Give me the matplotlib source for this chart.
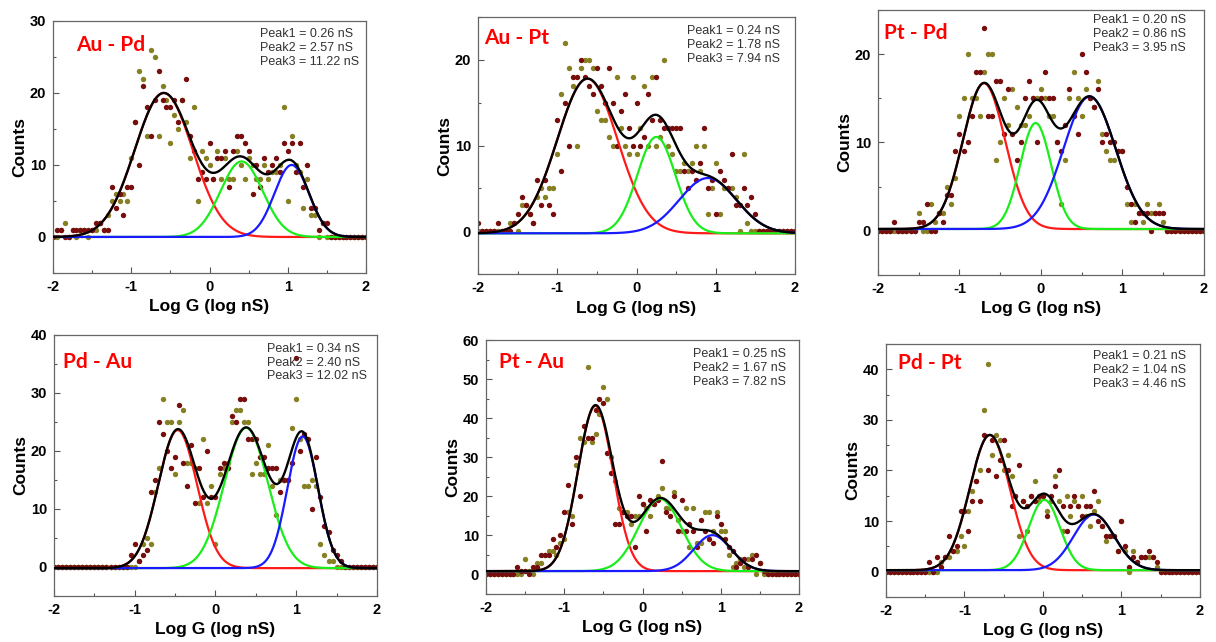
import numpy as np
import matplotlib.pyplot as plt
from matplotlib.ticker import MultipleLocator

# histogram bin centres, log G from -2 to 2
bins = np.round(np.linspace(-2, 2, 81), 2)

# ---- Au - Pd
aupd_maroon = [0, 1, 1, 0, 0, 1, 1, 1, 1, 1, 1, 2, 2, 1, 1, 7, 4, 6, 3, 7,
               7, 16, 10, 21, 18, 14, 19, 23, 19, 18, 18, 19, 16, 19, 22, 14, 12, 8, 9, 8,
               13, 8, 11, 11, 12, 7, 12, 14, 14, 13, 12, 6, 10, 7, 11, 9, 10, 11, 9, 13,
               12, 13, 9, 13, 7, 10, 4, 4, 1, 2, 2, 0, 0, 0, 0, 0, 0, 0, 0, 0, 0]
aupd_olive = [0, 0, 1, 2, 0, 1, 0, 1, 1, 0, 1, 1, 2, 1, 3, 5, 6, 5, 6, 5,
              11, 16, 23, 22, 14, 26, 25, 14, 21, 19, 13, 17, 15, 19, 16, 11, 18, 5, 12, 11,
              10, 8, 12, 8, 11, 8, 8, 12, 10, 8, 11, 10, 8, 8, 10, 8, 9, 9, 10, 18,
              5, 14, 10, 9, 4, 8, 3, 3, 0, 2, 0, 0, 0, 0, 0, 0, 0, 0, 0, 0, 0]
aupd_peaks = [0.26, 2.57, 11.22]          # nS
aupd_amp = [20.0, 10.5, 10.0]
aupd_width = [0.37, 0.27, 0.22]
aupd_base = 0.0

# ---- Au - Pt
aupt_maroon = [1, 0, 0, 0, 0, 1, 0, 0, 0, 1, 2, 4, 3, 2, 1, 6, 3, 6, 3, 2,
               13, 7, 15, 10, 18, 18, 20, 18, 17, 16, 19, 17, 15, 19, 15, 10, 14, 16, 12, 10,
               15, 10, 11, 16, 13, 18, 13, 12, 12, 12, 12, 12, 7, 5, 7, 6, 8, 12, 5, 6,
               2, 7, 6, 5, 9, 3, 3, 5, 3, 4, 2, 0, 0, 0, 0, 0, 0, 0, 0, 0, 0]
aupt_olive = [0, 0, 0, 0, 0, 0, 0, 0, 1, 1, 0, 3, 3, 2, 1, 4, 5, 4, 5, 5,
              9, 16, 22, 19, 17, 10, 19, 20, 20, 19, 14, 13, 13, 11, 10, 18, 12, 10, 9, 18,
              9, 12, 17, 10, 18, 10, 11, 20, 10, 9, 7, 7, 8, 7, 8, 10, 7, 10, 2, 5,
              8, 2, 5, 5, 5, 4, 0, 9, 1, 0, 0, 0, 0, 0, 0, 0, 0, 0, 0, 0, 0]
aupt_peaks = [0.24, 1.78, 7.94]
aupt_amp = [18.05, 11.25, 6.45]
aupt_width = [0.38, 0.24, 0.36]
aupt_base = -0.25

# ---- Pt - Pd
ptpd_maroon = [0, 0, 0, 0, 1, 0, 0, 0, 0, 0, 1, 1, 3, 0, 0, 2, 1, 4, 4, 9,
               11, 9, 10, 13, 18, 18, 23, 13, 13, 17, 17, 11, 16, 11, 8, 10, 15, 17, 15, 10,
               15, 18, 15, 15, 10, 9, 12, 16, 13, 11, 20, 18, 15, 14, 16, 10, 11, 10, 10, 9,
               9, 5, 3, 1, 2, 2, 2, 0, 2, 2, 2, 0, 0, 0, 0, 0, 0, 0, 0, 0, 0]
ptpd_olive = [0, 0, 0, 0, 0, 0, 0, 0, 0, 0, 2, 0, 0, 3, 1, 2, 2, 5, 3, 6,
              13, 15, 20, 15, 15, 13, 18, 20, 20, 8, 10, 15, 12, 16, 14, 12, 12, 13, 15, 15,
              16, 15, 13, 13, 10, 3, 8, 15, 18, 15, 13, 16, 15, 14, 17, 11, 9, 8, 8, 9,
              9, 3, 1, 3, 2, 1, 3, 2, 2, 3, 1, 0, 0, 0, 0, 0, 0, 0, 0, 0, 0]
ptpd_peaks = [0.20, 0.86, 3.95]
ptpd_amp = [16.5, 12.0, 15.0]
ptpd_width = [0.26, 0.19, 0.32]
ptpd_base = 0.2

# ---- Pd - Au
pdau_maroon = [0, 0, 0, 0, 0, 0, 0, 0, 0, 0, 0, 0, 0, 0, 0, 0, 0, 0, 0, 2,
               4, 1, 2, 3, 13, 15, 25, 23, 20, 17, 19, 28, 18, 14, 21, 11, 17, 12, 20, 12,
               12, 17, 18, 17, 26, 25, 29, 29, 22, 22, 22, 19, 19, 17, 17, 17, 13, 15, 15, 18,
               36, 20, 23, 22, 10, 19, 12, 7, 6, 3, 2, 1, 0, 0, 0, 0, 0, 0, 0, 0, 0]
pdau_olive = [0, 0, 0, 0, 0, 0, 0, 0, 0, 0, 0, 0, 0, 0, 0, 0, 0, 0, 0, 0,
              0, 1, 4, 5, 4, 13, 17, 29, 25, 25, 16, 25, 27, 18, 18, 17, 11, 22, 11, 14,
              4, 16, 17, 18, 25, 27, 27, 25, 25, 16, 18, 16, 16, 21, 14, 9, 15, 15, 15, 24,
              29, 22, 14, 14, 15, 14, 4, 2, 1, 1, 0, 0, 0, 0, 0, 0, 0, 0, 0, 0, 0]
pdau_peaks = [0.34, 2.40, 12.02]
pdau_amp = [23.8, 24.2, 22.7]
pdau_width = [0.24, 0.27, 0.19]
pdau_base = -0.2

# ---- Pt - Au
ptau_maroon = [0, 0, 0, 0, 0, 0, 0, 0, 2, 1, 1, 0, 2, 2, 5, 5, 5, 9, 7, 10,
               16, 23, 13, 30, 20, 38, 35, 35, 42, 45, 44, 31, 26, 13, 13, 16, 15, 15, 7, 20,
               18, 11, 19, 18, 19, 29, 16, 15, 20, 11, 19, 11, 13, 11, 7, 14, 11, 9, 8, 15,
               13, 9, 7, 6, 2, 3, 4, 2, 4, 5, 3, 1, 0, 0, 0, 0, 0, 0, 0, 0, 0]
ptau_olive = [0, 0, 0, 0, 0, 0, 0, 0, 0, 0, 4, 1, 0, 3, 3, 5, 6, 6, 5, 8,
              9, 16, 15, 28, 35, 34, 53, 34, 36, 41, 48, 45, 30, 24, 17, 16, 16, 13, 15, 15,
              18, 17, 15, 18, 20, 22, 17, 17, 21, 14, 11, 17, 7, 17, 8, 8, 16, 16, 11, 16,
              11, 11, 5, 2, 3, 4, 2, 4, 5, 0, 3, 0, 0, 0, 0, 0, 0, 0, 0, 0, 0]
ptau_peaks = [0.25, 1.67, 7.82]
ptau_amp = [42.3, 18.5, 9.2]
ptau_width = [0.224, 0.273, 0.24]
ptau_base = 0.85

# ---- Pd - Pt
pdpt_maroon = [0, 0, 0, 0, 0, 0, 0, 0, 0, 0, 0, 2, 0, 3, 1, 3, 7, 4, 5, 12,
               12, 8, 14, 18, 14, 27, 20, 26, 19, 22, 26, 20, 13, 15, 21, 14, 13, 15, 14, 15,
               15, 11, 15, 17, 20, 13, 8, 13, 15, 13, 11, 13, 13, 16, 10, 9, 7, 7, 7, 4,
               10, 5, 1, 3, 2, 3, 3, 4, 3, 2, 0, 0, 0, 0, 0, 0, 0, 0, 0, 0, 0]
pdpt_olive = [0, 0, 0, 0, 0, 0, 0, 0, 0, 0, 0, 0, 0, 0, 2, 3, 3, 4, 4, 7,
              5, 12, 16, 18, 20, 32, 41, 23, 27, 26, 20, 23, 19, 15, 7, 14, 8, 15, 18, 14,
              15, 12, 14, 19, 14, 8, 15, 11, 14, 13, 15, 11, 9, 12, 14, 9, 6, 7, 7, 4,
              10, 4, 0, 4, 2, 3, 3, 3, 3, 1, 0, 0, 0, 0, 0, 0, 0, 0, 0, 0, 0]
pdpt_peaks = [0.21, 1.04, 4.46]
pdpt_amp = [26.7, 13.9, 11.0]
pdpt_width = [0.255, 0.2, 0.26]
pdpt_base = 0.3

panels = [
    ("Au - Pd", aupd_maroon, aupd_olive, aupd_peaks, aupd_amp, aupd_width, aupd_base, 30),
    ("Au - Pt", aupt_maroon, aupt_olive, aupt_peaks, aupt_amp, aupt_width, aupt_base, 25),
    ("Pt - Pd", ptpd_maroon, ptpd_olive, ptpd_peaks, ptpd_amp, ptpd_width, ptpd_base, 25),
    ("Pd - Au", pdau_maroon, pdau_olive, pdau_peaks, pdau_amp, pdau_width, pdau_base, 40),
    ("Pt - Au", ptau_maroon, ptau_olive, ptau_peaks, ptau_amp, ptau_width, ptau_base, 60),
    ("Pd - Pt", pdpt_maroon, pdpt_olive, pdpt_peaks, pdpt_amp, pdpt_width, pdpt_base, 45),
]

# axes boxes in figure fraction, and where the name / peak text sit inside each
boxes = [
    (0.0436, 0.5748, 0.2574, 0.3925),
    (0.3931, 0.5732, 0.2607, 0.4003),
    (0.7220, 0.5717, 0.2681, 0.4128),
    (0.0444, 0.0717, 0.2656, 0.4065),
    (0.3997, 0.0748, 0.2574, 0.3956),
    (0.7286, 0.0701, 0.2582, 0.3941),
]
name_pos = [(0.075, 0.905), (0.02, 0.918), (0.02, 0.913),
            (0.028, 0.897), (0.04, 0.913), (0.038, 0.925)]
peak_pos = [(0.66, 0.972), (0.66, 0.969), (0.66, 0.985),
            (0.66, 0.97), (0.66, 0.968), (0.66, 0.976)]

plt.rcParams['font.family'] = ['Liberation Sans', 'DejaVu Sans']
plt.rcParams['axes.unicode_minus'] = False
fig = plt.figure(figsize=(12.16, 6.42), dpi=100)

xs = np.linspace(-2, 2, 400)
comp_colors = ['#ff1a1a', '#1aee1a', '#1a1aff']

for box, npos, ppos, (name, maroon, olive, peaks, amp, width, base, ytop) in zip(
        boxes, name_pos, peak_pos, panels):
    ax = fig.add_axes(box)
    ax.scatter(bins, olive, s=15, color='#868022', zorder=2, linewidths=0)
    ax.scatter(bins, maroon, s=15, color='#780d0d', zorder=2, linewidths=0)

    total = np.full_like(xs, base)
    for pk, a, w, c in zip(peaks, amp, width, comp_colors):
        g = a * np.exp(-(xs - np.log10(pk)) ** 2 / (2 * w ** 2))
        total += g
        ax.plot(xs, base + g, color=c, lw=1.6, zorder=3)
    ax.plot(xs, total, color='black', lw=1.7, zorder=4)

    ax.set_xlim(-2, 2)
    ax.set_ylim(-5, ytop)
    ax.xaxis.set_major_locator(MultipleLocator(1))
    ax.xaxis.set_minor_locator(MultipleLocator(0.5))
    ax.yaxis.set_major_locator(MultipleLocator(10))
    ax.yaxis.set_minor_locator(MultipleLocator(5))
    ax.tick_params(which='both', direction='in', top=False, right=False,
                   labelsize=10.5, width=0.8, colors='#555555', labelcolor='black')
    ax.tick_params(which='major', length=4, pad=5)
    ax.tick_params(which='minor', length=2.5)
    for lab in ax.get_xticklabels() + ax.get_yticklabels():
        lab.set_fontweight('bold')
    for sp in ax.spines.values():
        sp.set_color('#666666')
        sp.set_linewidth(0.9)

    ax.set_xlabel("Log G (log nS)", fontsize=12.5, fontweight='bold', labelpad=4)
    ax.set_ylabel("Counts", fontsize=12.5, fontweight='bold', labelpad=2)

    ax.text(npos[0], npos[1], name, transform=ax.transAxes, color='red', fontsize=15,
            fontweight='bold', family='Lato', va='center')
    label = "\n".join(f"Peak{i + 1} = {p:.2f} nS" for i, p in enumerate(peaks))
    ax.text(ppos[0], ppos[1], label, transform=ax.transAxes, fontsize=9, color='#333333',
            va='top', ha='left', linespacing=1.2)

fig.savefig("out.png", dpi=100)
